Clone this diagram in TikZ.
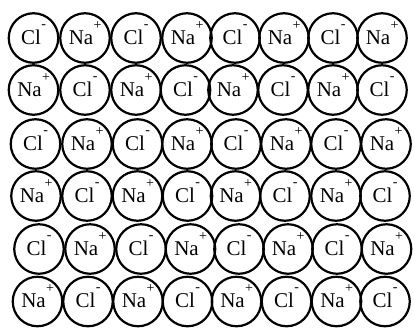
\documentclass[tikz,border=0pt]{standalone}
\usepackage{fontspec}
\setmainfont{Liberation Serif}
\newcommand\ionrow[3]{%
  \foreach \x [count=\k] in {#3} {
    \pgfmathtruncatemacro\pp{mod(#1+\k,2)}
    \node[ion] (c-#1-\k) at (\x,#2) {};
    \ifnum\pp=0
      \node[lab] (t-#1-\k) at ([xshift=-2.4pt,yshift=-6pt]c-#1-\k.center) {Cl};
      \node[sup] (s-#1-\k) at ([yshift=16pt]t-#1-\k.base east) {-};
    \else
      \node[lab] (t-#1-\k) at ([xshift=-4pt,yshift=-6pt]c-#1-\k.center) {Na};
      \node[sup] (s-#1-\k) at ([yshift=15pt]t-#1-\k.base east) {+};
    \fi
  }}
\begin{document}
\begin{tikzpicture}[x=1pt,y=-1pt,
  ion/.style={circle,draw,line width=2.2pt,minimum size=49.5pt,inner sep=0pt},
  lab/.style={anchor=base,inner sep=0pt,font=\fontsize{21pt}{21pt}\selectfont},
  sup/.style={anchor=base west,inner sep=0pt,font=\fontsize{14pt}{14pt}\selectfont}]
\useasboundingbox (0,0) rectangle (414,327);
\ionrow{1}{38}{33.5,85,136,187,235,284,333,382}
\ionrow{2}{90}{33.5,85,136,185.5,233,283,333,382}
\ionrow{3}{144}{35.5,87,137.5,187,236,286,336,386}
\ionrow{4}{196}{36,87,137.5,187.5,235.5,285,336,385}
\ionrow{5}{249}{39,90,141,190.5,239,288,337,386.5}
\ionrow{6}{301.5}{37.5,88,138,187.5,236.5,286.5,336.5,385}
\end{tikzpicture}
\end{document}
